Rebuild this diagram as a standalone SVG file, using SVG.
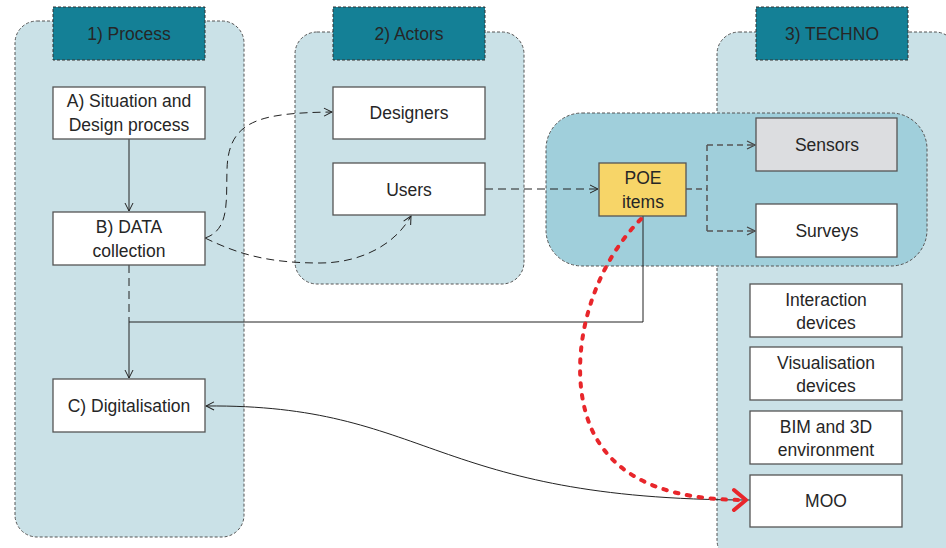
<svg xmlns="http://www.w3.org/2000/svg" width="946" height="548" viewBox="0 0 946 548">
<defs>
<style>
.cont{fill:#cae1e7;stroke:#555;stroke-width:1;stroke-dasharray:3 2}
.inner{fill:#a0cfdb;stroke:#555;stroke-width:1;stroke-dasharray:3 2}
.hdr{fill:#148096;stroke:#333;stroke-width:1;stroke-dasharray:3 2}
.box{fill:#fff;stroke:#555;stroke-width:1.3}
.grey{fill:#dcdde0}
.poe{fill:#f7d568}
text{font-family:"Liberation Sans",Arial,sans-serif;font-size:17.5px;fill:#262626;text-anchor:middle}
.c{fill:none;stroke:#222;stroke-width:1}
.d{stroke-dasharray:8 5}
.g{fill:none;stroke:#555;stroke-width:1.5;stroke-dasharray:6 4}
.red{fill:none;stroke:#e8262b;stroke-width:4;stroke-dasharray:3.5 8.5;stroke-linecap:round}
</style>
<marker id="ar" viewBox="0 0 10 10" refX="9" refY="5" markerWidth="10" markerHeight="10" markerUnits="userSpaceOnUse" orient="auto"><path d="M1,1 L9,5 L1,9" fill="none" stroke="#222" stroke-width="1"/></marker>
<marker id="arg" viewBox="0 0 10 10" refX="9" refY="5" markerWidth="10" markerHeight="10" markerUnits="userSpaceOnUse" orient="auto"><path d="M1,1 L9,5 L1,9" fill="none" stroke="#444" stroke-width="1.2"/></marker>
<marker id="ars" viewBox="0 0 10 10" refX="1" refY="5" markerWidth="10" markerHeight="10" markerUnits="userSpaceOnUse" orient="auto"><path d="M9,1 L1,5 L9,9" fill="none" stroke="#222" stroke-width="1"/></marker>
<marker id="arr" viewBox="0 0 18 26" refX="15" refY="13" markerWidth="18" markerHeight="26" markerUnits="userSpaceOnUse" orient="auto"><path d="M3,3 L15,13 L3,23" fill="none" stroke="#e8262b" stroke-width="4" stroke-linecap="round" stroke-linejoin="round"/></marker>
</defs>
<rect width="946" height="548" fill="#fff"/>

<g id="process">
<rect class="cont" x="15" y="21" width="229" height="516" rx="22"/>
<rect class="hdr" x="53" y="7" width="152" height="53"/>
<text x="129" y="40">1) Process</text>
</g>
<g id="actors">
<rect class="cont" x="295" y="32" width="229" height="252" rx="22"/>
<rect class="hdr" x="333" y="7" width="152" height="53"/>
<text x="409" y="40">2) Actors</text>
</g>
<g id="techno">
<rect class="cont" x="717" y="32" width="240" height="530" rx="22"/>
<rect class="hdr" x="756" y="7" width="152" height="53"/>
<text x="832" y="40">3) TECHNO</text>
</g>
<g id="poe-group">
<rect class="inner" x="546" y="113" width="381" height="153" rx="36"/>
</g>

<g id="connectors">
<path class="c" d="M129,139 L129,211" marker-end="url(#ar)"/>
<path class="c d" d="M205,238 C230,230 226,200 227,170 C228,120 260,113 332,112" marker-end="url(#ar)"/>
<path class="c d" d="M205,238 C240,255 270,263 320,263 C360,263 395,245 411,216" marker-end="url(#ar)"/>
<path class="c d" d="M485,189 L598,189" marker-end="url(#ar)"/>
<path class="g" d="M686,189 L707,189 M707,145 L707,231"/>
<path class="g" d="M707,145 L755,145" marker-end="url(#arg)"/>
<path class="g" d="M707,231 L755,231" marker-end="url(#arg)"/>
<path class="c d" d="M129,265 L129,322"/>
<path class="c" d="M643,216 L643,322 L129,322 L129,378" marker-end="url(#ar)"/>
<path class="c" d="M206,406 C430,404 430,500 750,500" marker-start="url(#ars)"/>
<path class="red" d="M641,219 C585,275 565,370 592,430 C620,490 690,500 746,500" marker-end="url(#arr)"/>
</g>

<g id="nodeA"><rect class="box" x="53" y="87" width="152" height="52"/><text x="129" y="107">A) Situation and</text><text x="129" y="131">Design process</text></g>
<g id="nodeB"><rect class="box" x="53" y="212" width="152" height="53"/><text x="129" y="233">B) DATA</text><text x="129" y="257">collection</text></g>
<g id="nodeC"><rect class="box" x="53" y="379" width="152" height="53"/><text x="129" y="412">C) Digitalisation</text></g>
<g id="designers"><rect class="box" x="333" y="87" width="152" height="52"/><text x="409" y="119">Designers</text></g>
<g id="users"><rect class="box" x="333" y="163" width="152" height="52"/><text x="409" y="196">Users</text></g>
<g id="poe"><rect class="box poe" x="599" y="163" width="87" height="53"/><text x="643" y="184">POE</text><text x="643" y="208">items</text></g>
<g id="sensors"><rect class="box grey" x="756" y="118" width="141" height="53"/><text x="827" y="151">Sensors</text></g>
<g id="surveys"><rect class="box" x="756" y="204" width="141" height="53"/><text x="827" y="237">Surveys</text></g>
<g id="interaction"><rect class="box" x="750" y="284" width="152" height="53"/><text x="826" y="306">Interaction</text><text x="826" y="329">devices</text></g>
<g id="visualisation"><rect class="box" x="750" y="347" width="152" height="53"/><text x="826" y="369">Visualisation</text><text x="826" y="392">devices</text></g>
<g id="bim"><rect class="box" x="750" y="411" width="152" height="53"/><text x="826" y="433">BIM and 3D</text><text x="826" y="456">environment</text></g>
<g id="moo"><rect class="box" x="750" y="475" width="152" height="52"/><text x="826" y="507">MOO</text></g>
</svg>
